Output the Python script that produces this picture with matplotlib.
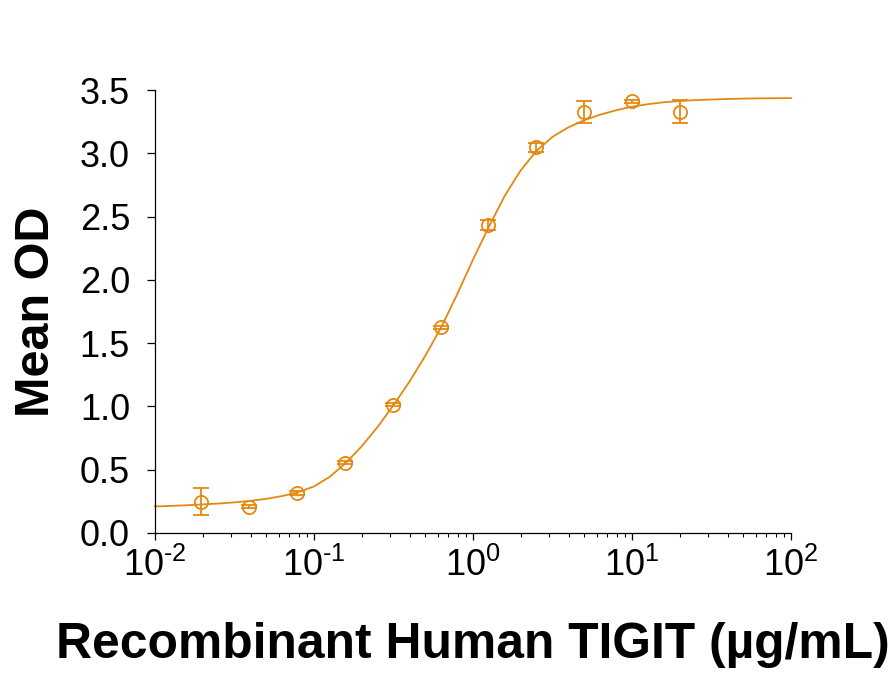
import matplotlib
matplotlib.use("Agg")
import matplotlib.pyplot as plt
from matplotlib.ticker import LogLocator, NullFormatter, FixedLocator

plt.rcParams['font.family'] = ['Liberation Sans', 'DejaVu Sans']
plt.rcParams['mathtext.fontset'] = 'custom'
plt.rcParams['mathtext.rm'] = 'Liberation Sans'
plt.rcParams['mathtext.it'] = 'Liberation Sans'
plt.rcParams['axes.unicode_minus'] = False

ORANGE = '#E5880F'

# measured points (conc in ug/mL, mean OD, error)
conc = [0.0195, 0.039, 0.078, 0.156, 0.3125, 0.625, 1.25, 2.5, 5.0, 10.0, 20.0]
mean_od = [0.247, 0.208, 0.316, 0.556, 1.012, 1.624, 2.432, 3.046, 3.326, 3.410, 3.328]
err_od = [0.105, 0.010, 0.015, 0.012, 0.012, 0.015, 0.040, 0.035, 0.085, 0.010, 0.090]

# fitted curve, 10 samples per decade from 0.01 to 100
curve_x = [10 ** (k / 10) for k in range(-20, 21)]
curve_y = [0.210, 0.214, 0.219, 0.226, 0.233, 0.242, 0.254, 0.270, 0.292, 0.322,
           0.368, 0.445, 0.553, 0.685, 0.838, 1.010, 1.195, 1.400, 1.625, 1.885,
           2.160, 2.420, 2.665, 2.865, 3.020, 3.130, 3.205, 3.262, 3.305, 3.340,
           3.368, 3.388, 3.403, 3.413, 3.420, 3.425, 3.429, 3.432, 3.434, 3.435,
           3.436]

y_ticks = [0.0, 0.5, 1.0, 1.5, 2.0, 2.5, 3.0, 3.5]
x_ticks = [1e-2, 1e-1, 1e0, 1e1, 1e2]
x_tick_labels = ['$10^{\u20102}$', '$10^{\u20101}$', '$10^{0}$', '$10^{1}$', '$10^{2}$']

fig = plt.figure(figsize=(8.94, 6.78), dpi=100)
ax = fig.add_axes([155 / 894, 1 - 533 / 678, 636 / 894, 443 / 678])

ax.plot(curve_x, curve_y, color=ORANGE, linewidth=1.3, zorder=2, clip_on=False)
ax.errorbar(conc, mean_od, yerr=err_od, fmt='o', mfc='none', mec=ORANGE,
            ecolor=ORANGE, color=ORANGE, markersize=9.5, markeredgewidth=1.3,
            elinewidth=1.3, capsize=6, capthick=1.3, zorder=3, clip_on=False)

ax.set_xscale('log')
ax.set_xlim(1e-2, 1e2)
ax.set_ylim(0, 3.5)

ax.xaxis.set_major_locator(FixedLocator(x_ticks))
ax.set_xticklabels(x_tick_labels)
ax.xaxis.set_minor_locator(LogLocator(base=10, subs=range(2, 10), numticks=20))
ax.xaxis.set_minor_formatter(NullFormatter())
ax.set_yticks(y_ticks)
ax.set_yticklabels([f'{v:.1f}' for v in y_ticks])

for side in ['top', 'right']:
    ax.spines[side].set_visible(False)
for side in ['left', 'bottom']:
    ax.spines[side].set_linewidth(0.9)

ax.tick_params(axis='y', which='major', direction='out', length=6, width=0.9,
               labelsize=26, pad=12)
ax.tick_params(axis='x', which='major', direction='out', length=5, width=0.9,
               labelsize=26, pad=6)
ax.tick_params(axis='x', which='minor', direction='out', length=3, width=0.8)

ax.set_xlabel('Recombinant Human TIGIT (µg/mL)', fontsize=35.8, fontweight='bold',
              labelpad=27)
ax.set_ylabel('Mean OD', fontsize=35, fontweight='bold', labelpad=15)

fig.savefig('out.png', dpi=100, facecolor='white')
plt.close(fig)
